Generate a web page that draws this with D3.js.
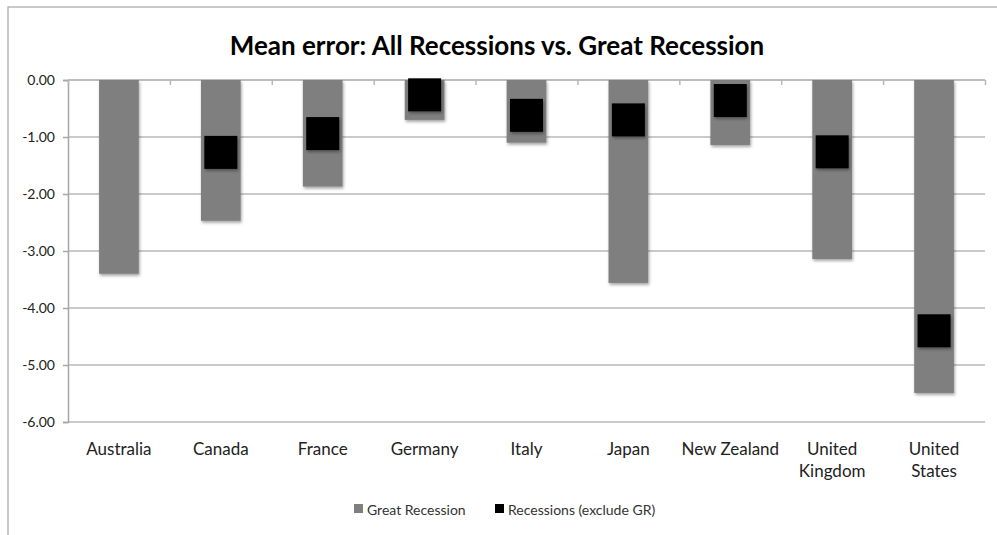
<!DOCTYPE html>
<html>
<head>
<meta charset="utf-8">
<script src="https://cdn.jsdelivr.net/npm/d3@7"></script>
<style>
  html, body { margin: 0; padding: 0; background: #fff; }
  svg { display: block; }
  text { font-family: Lato, "Open Sans", "DejaVu Sans", sans-serif; fill: #222; }
</style>
</head>
<body>
<svg id="chart" width="997" height="535"></svg>
<script>
// Mean forecast error by country
const categories = ["Australia", "Canada", "France", "Germany", "Italy", "Japan", "New Zealand", "United Kingdom", "United States"];
const categoryLines = [["Australia"], ["Canada"], ["France"], ["Germany"], ["Italy"], ["Japan"], ["New Zealand"], ["United", "Kingdom"], ["United", "States"]];
const greatRecession = [-3.40, -2.47, -1.87, -0.70, -1.10, -3.56, -1.14, -3.14, -5.49];
const otherRecessions = [null, -1.27, -0.94, -0.26, -0.62, -0.70, -0.36, -1.26, -4.40];
const yTicks = [0, -1, -2, -3, -4, -5, -6];
const seriesNames = ["Great Recession", "Recessions (exclude GR)"];
const seriesColors = ["#7f7f7f", "#000000"];
const title = "Mean error: All Recessions vs. Great Recession";

const svg = d3.select("#chart");
const W = 997, H = 535;
const plot = { left: 68, right: 985, top: 80, bottom: 422 };

// outer chart frame
svg.append("rect")
  .attr("x", 8).attr("y", 7)
  .attr("width", W + 10).attr("height", H + 10)
  .attr("fill", "#fff").attr("stroke", "#a6a6a6").attr("stroke-width", 1.2);

// soft drop shadow used by bars and markers
const defs = svg.append("defs");
const f = defs.append("filter").attr("id", "shadow")
  .attr("x", "-20%").attr("y", "-20%").attr("width", "150%").attr("height", "150%");
f.append("feDropShadow").attr("dx", 1).attr("dy", 2).attr("stdDeviation", 1.6)
  .attr("flood-color", "#000").attr("flood-opacity", 0.35);

const x = d3.scaleBand().domain(categories).range([plot.left, plot.right]).paddingInner(0).paddingOuter(0);
const y = d3.scaleLinear().domain([-6, 0]).range([plot.bottom, plot.top]);
const xIdx = d3.scaleLinear().domain([0, categories.length]).range([plot.left, plot.right]);

// title
svg.append("text")
  .attr("x", 497).attr("y", 55)
  .attr("text-anchor", "middle")
  .attr("font-size", 26).attr("font-weight", "bold")
  .style("fill", "#000")
  .text(title);

// horizontal gridlines
svg.append("g")
  .selectAll("line").data(yTicks).join("line")
  .attr("x1", plot.left).attr("x2", plot.right)
  .attr("y1", d => y(d)).attr("y2", d => y(d))
  .attr("stroke", "#b8b8b8").attr("stroke-width", 1.5);

// y axis
const yAxis = svg.append("g")
  .attr("transform", `translate(${plot.left},0)`)
  .call(d3.axisLeft(y).tickValues(yTicks).tickSize(5).tickPadding(8)
    .tickFormat(d => d.toFixed(2)));
yAxis.select(".domain").attr("stroke", "#a6a6a6").attr("stroke-width", 1.5);
yAxis.selectAll(".tick line").attr("stroke", "#a6a6a6").attr("stroke-width", 1.5);
yAxis.selectAll(".tick text").attr("font-size", 14).style("font-family", "Lato, 'Open Sans', sans-serif").style("fill", "#222");

// category axis along zero
const xAxis = svg.append("g")
  .attr("transform", `translate(0,${y(0)})`)
  .call(d3.axisBottom(xIdx).tickValues(d3.range(categories.length + 1)).tickSize(5).tickFormat(""));
xAxis.select(".domain").attr("stroke", "#b8b8b8").attr("stroke-width", 1.5).attr("d", `M${plot.left},0H${plot.right}`);
xAxis.selectAll(".tick line").attr("stroke", "#b8b8b8").attr("stroke-width", 1.5);

// bars for the Great Recession
const barW = x.bandwidth() * 0.39;
svg.append("g").attr("filter", "url(#shadow)")
  .selectAll("rect").data(greatRecession).join("rect")
  .attr("x", (d, i) => x(categories[i]) + x.bandwidth() / 2 - barW / 2)
  .attr("y", d => y(Math.max(0, d)))
  .attr("width", barW)
  .attr("height", d => Math.abs(y(d) - y(0)))
  .attr("fill", seriesColors[0]);

// square markers for other recessions
const mk = 33;
svg.append("g").attr("filter", "url(#shadow)")
  .selectAll("rect").data(otherRecessions.map((v, i) => ({ v, i })).filter(d => d.v !== null)).join("rect")
  .attr("x", d => x(categories[d.i]) + x.bandwidth() / 2 - mk / 2)
  .attr("y", d => y(d.v) - mk / 2)
  .attr("width", mk).attr("height", mk)
  .attr("fill", seriesColors[1]);

// category labels below the plot
const lab = svg.append("g").selectAll("text").data(categoryLines).join("text")
  .attr("x", (d, i) => x(categories[i]) + x.bandwidth() / 2)
  .attr("y", 455)
  .attr("text-anchor", "middle")
  .attr("font-size", 17);
lab.selectAll("tspan").data(d => d).join("tspan")
  .attr("x", function () { return this.parentNode.getAttribute("x"); })
  .attr("dy", (d, j) => j === 0 ? 0 : 22)
  .text(d => d);

// legend
const legend = svg.append("g");
const legendItems = [{ x: 354, name: seriesNames[0], color: seriesColors[0] },
                     { x: 495, name: seriesNames[1], color: seriesColors[1] }];
legendItems.forEach(it => {
  legend.append("rect").attr("x", it.x).attr("y", 504).attr("width", 9).attr("height", 9).attr("fill", it.color);
  legend.append("text").attr("x", it.x + 13).attr("y", 515).attr("font-size", 14).style("fill", "#333").text(it.name);
});
</script>
</body>
</html>
